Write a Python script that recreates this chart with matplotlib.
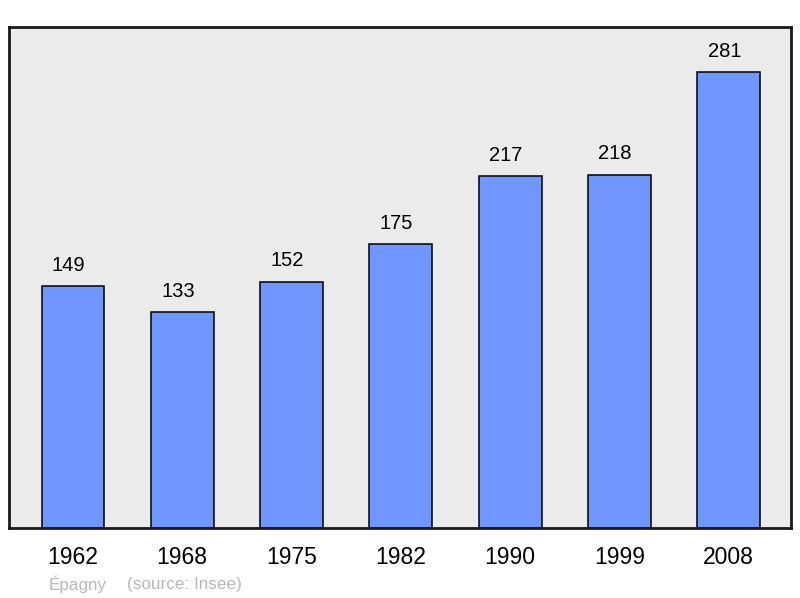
import numpy as np
import matplotlib.pyplot as plt

plt.rcParams['font.family'] = ['Liberation Sans', 'DejaVu Sans']

annees = ['1962', '1968', '1975', '1982', '1990', '1999', '2008']
population = [149, 133, 152, 175, 217, 218, 281]

fig = plt.figure(figsize=(8, 5.98), dpi=100)
# cadre des axes en pixels: x 9..791, y 27..528
ax = fig.add_axes([9/800, (598-528)/598, 782/800, 501/598])
ax.set_facecolor('#ebebeb')

x = np.arange(len(annees))
ax.bar(x, population, width=0.575, color='#7096ff', edgecolor='black', linewidth=1.1, zorder=2)

for xi, v in zip(x, population):
    ax.annotate(str(v), (xi, v), xytext=(-3, 14.8), textcoords='offset points',
                ha='center', va='center', fontsize=14.5)

ax.set_xlim(-0.585, 6.57)
ax.set_ylim(0, 309)
ax.set_yticks([])
ax.set_xticks(x)
ax.set_xticklabels(annees, fontsize=16.5)
ax.tick_params(axis='x', length=0, pad=13)
for s in ax.spines.values():
    s.set_linewidth(2)
    s.set_color('#1a1a1a')

fig.text(49/800, 1 - 584/598, 'Épagny', color='#b8b8b8', fontsize=12.3, va='center', ha='left')
fig.text(127/800, 1 - 584/598, '(source: Insee)', color='#b8b8b8', fontsize=12.3, va='center', ha='left')

fig.savefig('out.png', dpi=100)
